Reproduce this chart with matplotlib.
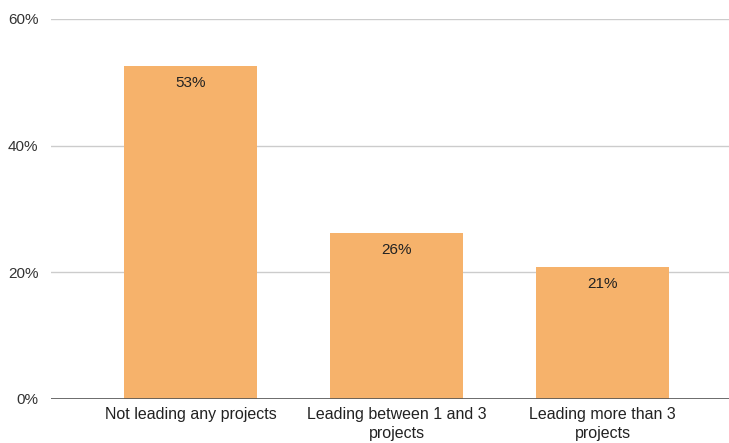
import matplotlib
matplotlib.use("Agg")
import matplotlib.pyplot as plt

categories = ["Not leading any projects", "Leading between 1 and 3\nprojects", "Leading more than 3\nprojects"]
values = [52.6, 26.2, 20.8]
yticks = [0, 20, 40, 60]

plt.rcParams['font.family'] = ['Liberation Sans', 'DejaVu Sans']

fig = plt.figure(figsize=(7.29, 4.43), dpi=100)
ax = fig.add_axes([51 / 729, 44 / 443, 1 - 51 / 729, 380 / 443])

x = list(range(len(categories)))
bars = ax.bar(x, values, width=0.646, color="#F6B26B", zorder=3)

for xi, v in zip(x, values):
    ax.annotate(f"{v:.0f}%", xy=(xi, v), xytext=(0, -12), textcoords="offset points",
                ha="center", va="center", fontsize=11, color="#222222", zorder=4)

ax.set_xlim(-0.677, 2.614)
ax.set_ylim(0, 60)
ax.set_yticks(yticks)
ax.set_yticklabels([f"{t}%" for t in yticks], fontsize=11, color="#333333")
ax.set_xticks(x)
ax.set_xticklabels(categories, fontsize=11.5, color="#222222", linespacing=1.3)

ax.grid(axis="y", color="#cccccc", linewidth=1, zorder=0)
ax.axhline(0, color="#555555", linewidth=1.2, zorder=5)
for s in ax.spines.values():
    s.set_visible(False)
ax.tick_params(axis="both", length=0)
ax.tick_params(axis="y", pad=9)
ax.tick_params(axis="x", pad=6)

fig.savefig("out.png", dpi=100)
